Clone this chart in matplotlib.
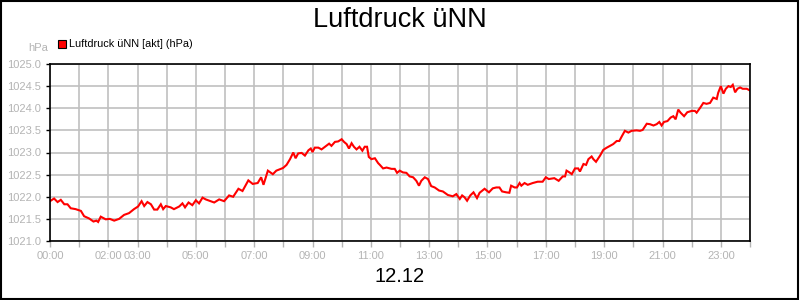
import matplotlib.pyplot as plt
from matplotlib.patches import Rectangle

# hours since midnight
hours = [0.00, 0.14, 0.26, 0.37, 0.49, 0.60, 0.71, 0.88, 1.06, 1.17, 1.34, 1.49, 1.59, 1.65,
         1.74, 1.91, 2.05, 2.20, 2.37, 2.54, 2.71, 2.88, 3.02, 3.14, 3.23, 3.34, 3.46, 3.57,
         3.68, 3.80, 3.88, 3.97, 4.14, 4.25, 4.43, 4.54, 4.63, 4.75, 4.88, 5.00, 5.11, 5.23,
         5.34, 5.51, 5.63, 5.80, 5.97, 6.14, 6.28, 6.46, 6.60, 6.80, 6.95, 7.12, 7.24, 7.32,
         7.47, 7.64, 7.76, 7.99, 8.11, 8.23, 8.34, 8.42, 8.51, 8.63, 8.74, 8.86, 8.94, 9.00,
         9.08, 9.20, 9.31, 9.43, 9.57, 9.65, 9.77, 9.88, 10.00, 10.08, 10.17, 10.25, 10.34,
         10.42, 10.51, 10.61, 10.71, 10.79, 10.87, 10.93, 11.02, 11.14, 11.25, 11.31, 11.42,
         11.54, 11.71, 11.82, 11.90, 11.99, 12.10, 12.22, 12.33, 12.45, 12.56, 12.65, 12.73,
         12.85, 12.96, 13.07, 13.19, 13.34, 13.47, 13.64, 13.81, 13.93, 14.05, 14.13, 14.21,
         14.30, 14.41, 14.52, 14.64, 14.73, 14.90, 15.05, 15.18, 15.30, 15.41, 15.50, 15.64,
         15.75, 15.81, 15.93, 16.01, 16.10, 16.16, 16.27, 16.38, 16.55, 16.72, 16.89, 17.00,
         17.10, 17.29, 17.44, 17.58, 17.66, 17.71, 17.81, 17.89, 18.00, 18.11, 18.17, 18.29,
         18.38, 18.46, 18.57, 18.63, 18.72, 18.86, 18.97, 19.09, 19.20, 19.31, 19.43, 19.52,
         19.60, 19.71, 19.83, 19.94, 20.11, 20.23, 20.32, 20.46, 20.57, 20.69, 20.80, 20.89,
         20.97, 21.05, 21.17, 21.28, 21.37, 21.45, 21.54, 21.62, 21.74, 21.85, 22.00, 22.11,
         22.17, 22.29, 22.40, 22.51, 22.63, 22.74, 22.86, 22.91, 23.00, 23.09, 23.17, 23.26,
         23.34, 23.41, 23.49, 23.57, 23.66, 23.75, 23.89, 24.00]

pressure = [1021.90, 1021.96, 1021.88, 1021.93, 1021.83, 1021.83, 1021.74, 1021.72, 1021.68,
            1021.56, 1021.51, 1021.44, 1021.46, 1021.43, 1021.55, 1021.49, 1021.50, 1021.46,
            1021.50, 1021.59, 1021.63, 1021.72, 1021.78, 1021.90, 1021.79, 1021.88, 1021.83,
            1021.71, 1021.71, 1021.83, 1021.72, 1021.79, 1021.76, 1021.72, 1021.78, 1021.85,
            1021.76, 1021.87, 1021.81, 1021.92, 1021.85, 1021.98, 1021.94, 1021.90, 1021.87,
            1021.94, 1021.90, 1022.03, 1022.00, 1022.18, 1022.13, 1022.37, 1022.29, 1022.31,
            1022.44, 1022.27, 1022.59, 1022.51, 1022.59, 1022.65, 1022.72, 1022.85, 1023.00,
            1022.87, 1022.98, 1022.99, 1022.93, 1023.05, 1023.09, 1023.01, 1023.11, 1023.11,
            1023.07, 1023.13, 1023.20, 1023.15, 1023.24, 1023.25, 1023.30, 1023.24, 1023.19,
            1023.09, 1023.21, 1023.13, 1023.07, 1023.13, 1023.04, 1023.13, 1023.13, 1022.90,
            1022.85, 1022.87, 1022.76, 1022.72, 1022.64, 1022.66, 1022.63, 1022.63, 1022.54,
            1022.59, 1022.55, 1022.54, 1022.46, 1022.44, 1022.36, 1022.25, 1022.36, 1022.44,
            1022.40, 1022.24, 1022.21, 1022.14, 1022.12, 1022.04, 1022.01, 1022.06, 1021.95,
            1022.03, 1021.99, 1021.91, 1022.03, 1022.10, 1021.97, 1022.09, 1022.18, 1022.10,
            1022.19, 1022.21, 1022.21, 1022.12, 1022.10, 1022.09, 1022.25, 1022.21, 1022.21,
            1022.31, 1022.25, 1022.31, 1022.27, 1022.31, 1022.34, 1022.34, 1022.44, 1022.40,
            1022.42, 1022.36, 1022.46, 1022.46, 1022.59, 1022.55, 1022.51, 1022.64, 1022.64,
            1022.57, 1022.74, 1022.72, 1022.85, 1022.91, 1022.85, 1022.79, 1022.93, 1023.06,
            1023.11, 1023.15, 1023.19, 1023.26, 1023.26, 1023.36, 1023.49, 1023.45, 1023.49,
            1023.50, 1023.49, 1023.51, 1023.65, 1023.64, 1023.61, 1023.64, 1023.69, 1023.61,
            1023.69, 1023.71, 1023.79, 1023.82, 1023.75, 1023.97, 1023.90, 1023.82, 1023.91,
            1023.94, 1023.94, 1023.90, 1024.01, 1024.12, 1024.10, 1024.12, 1024.24, 1024.21,
            1024.35, 1024.50, 1024.33, 1024.44, 1024.50, 1024.48, 1024.53, 1024.36, 1024.44,
            1024.47, 1024.44, 1024.44, 1024.40]

x_ticks = list(range(25))
x_labels = ['' for h in x_ticks]
for h in [0, 2, 3, 5, 7, 9, 11, 13, 15, 17, 19, 21, 23]:
    x_labels[h] = '%02d:00' % h
y_ticks = [1021.0, 1021.5, 1022.0, 1022.5, 1023.0, 1023.5, 1024.0, 1024.5, 1025.0]

plt.rcParams['font.family'] = ['Liberation Sans', 'DejaVu Sans']
grey = '#b4b4b4'

fig = plt.figure(figsize=(8, 3), dpi=100)
ax = fig.add_axes([50/800, 1 - 241/300, 700/800, 177/300])

ax.plot(hours, pressure, color='#ff0000', lw=1.5, solid_joinstyle='miter')

ax.set_xlim(0, 24)
ax.set_ylim(1021.0, 1025.0)
ax.set_xticks(x_ticks)
ax.set_xticklabels(x_labels)
ax.set_yticks(y_ticks)
ax.set_yticklabels(['%.1f' % v for v in y_ticks])
ax.tick_params(axis='both', colors=grey, labelsize=8, length=4, width=1)
ax.tick_params(axis='y', colors='black', labelcolor=grey, length=3)
ax.grid(True, color='#c0c0c0', lw=1.2)
ax.set_axisbelow(True)
for s in ax.spines.values():
    s.set_color('black')
    s.set_linewidth(1.2)

# title, legend-like label, units and date
fig.text(0.5, 1 - 20/300, 'Luftdruck üNN', ha='center', va='center', fontsize=19.5)
fig.patches.append(Rectangle((58/800, 1 - 48/300), 8/800, 8/300, transform=fig.transFigure,
                             facecolor='#ff0000', edgecolor='black', lw=0.8))
fig.text(69/800, 1 - 44/300, 'Luftdruck üNN [akt] (hPa)', ha='left', va='center', fontsize=7.8)
fig.text(48/800, 1 - 48/300, 'hPa', ha='right', va='center', fontsize=8, color=grey)
fig.text(400/800, 1 - 277/300, '12.12', ha='center', va='center', fontsize=14.5)

# frame round the whole picture
fig.patches.append(Rectangle((0.001, 0.002), 0.997, 0.995, transform=fig.transFigure,
                             fill=False, edgecolor='black', lw=1.5))

fig.savefig('out.png', dpi=100)
